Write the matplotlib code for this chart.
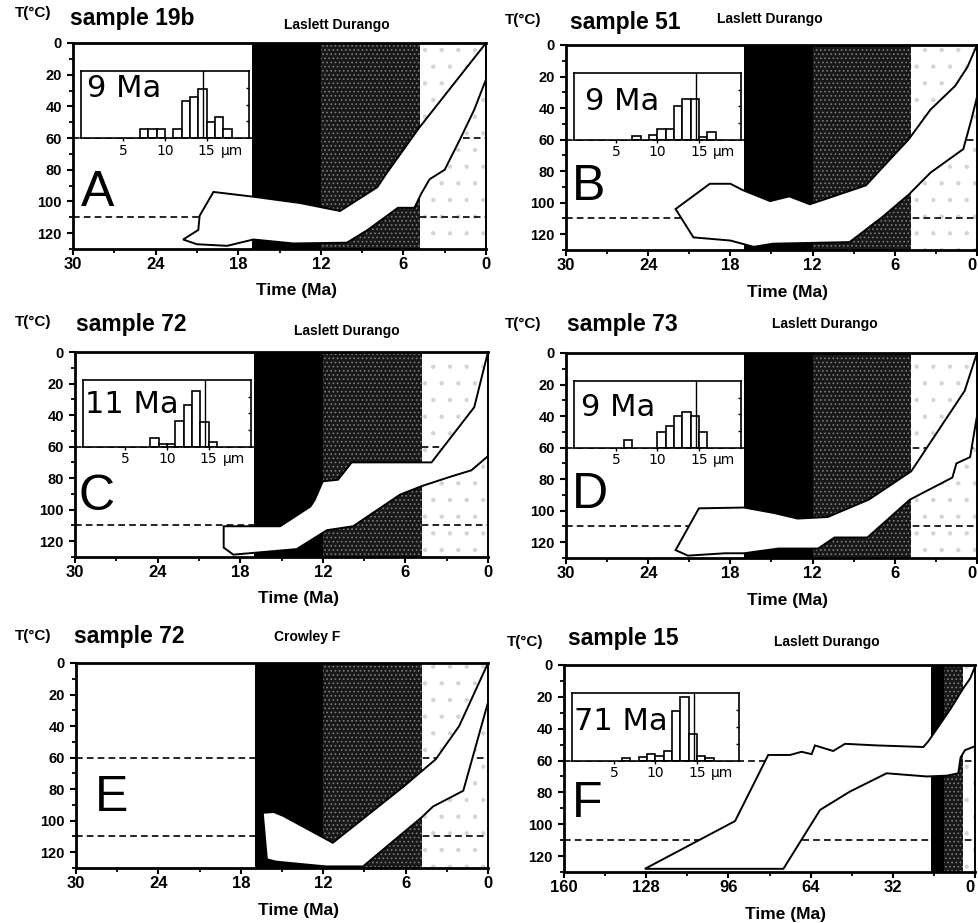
"""Thermal history envelopes (t-T paths) with fission-track length insets."""

import matplotlib

matplotlib.use("Agg")
import matplotlib.pyplot as plt
from matplotlib.patches import Polygon
from matplotlib.ticker import MultipleLocator
from matplotlib.transforms import blended_transform_factory, offset_copy

plt.rcParams["font.family"] = ["Liberation Sans", "DejaVu Sans"]
plt.rcParams["hatch.linewidth"] = 0.7

# --- envelope outlines: time (Ma), temperature (degC) ---
env_A_time = [0, 4.9, 7.2, 7.9, 10.6, 13.5, 16.9, 19.8, 20.8, 20.9, 22.0, 21.0, 18.8, 16.9,
              14.0, 10.1, 8.6, 6.4, 5.2, 4.7, 4.1, 3.0, 1.9, 0.85, 0]
env_A_temp = [0, 54, 82, 91, 106, 101, 97, 94, 109, 118, 124, 127, 128, 124,
              126.5, 126, 118, 104, 104, 95, 86, 80, 61, 42, 23]

env_B_time = [0, 0.7, 1.6, 3.4, 5.0, 6.4, 8.1, 9.8, 12.2, 13.7, 15.1, 17.1, 18.0, 19.5,
              22.0, 20.7, 18.0, 16.3, 14.9, 9.3, 6.9, 5.0, 3.4, 1.0, 0.4, 0]
env_B_temp = [0, 14, 26, 41, 60, 73, 89, 94, 101, 96, 99, 92, 88, 88,
              104, 122, 124, 128, 126, 125, 109, 95, 81, 66, 47, 33]

env_C_time = [0, 1.0, 4.1, 9.9, 10.9, 12.0, 12.6, 12.9, 15.1, 19.2, 19.2, 18.5, 13.9,
              11.7, 9.8, 6.4, 4.8, 2.7, 1.2, 0]
env_C_temp = [0, 35, 70, 70, 81, 82, 94, 98, 110.5, 110.5, 124, 128.5, 125,
              113, 110.5, 90.5, 85, 79, 75, 66]

env_D_time = [0, 0.9, 4.8, 7.9, 10.9, 13.1, 14.8, 17.0, 20.3, 22.0, 21.1, 18.4, 17.0,
              14.5, 11.6, 10.4, 8.0, 4.9, 3.8, 1.8, 1.5, 0.5, 0.1, 0]
env_D_temp = [0, 24, 75, 93, 104, 105, 101.5, 98, 98.5, 125, 128.5, 127, 127,
              124, 124, 117, 117, 93, 88, 79, 70, 66, 45, 40]

env_E_time = [0.1, 2.1, 3.8, 6.1, 11.3, 14.9, 15.6, 16.4, 16.1, 15.4, 11.8, 9.1, 4.85,
              4.0, 1.8, 0, 0]
env_E_temp = [2, 40, 61, 78, 114, 97, 94.5, 95, 124.5, 126, 129, 129, 98,
              91, 81, 25, 0]

env_F_time = [128.5, 93.4, 80.5, 72.0, 67.5, 63.6, 62.3, 55.2, 50.6, 38.3, 20.1, 18.2,
              9.7, 4.5, 1.9, 0, 0, 3.9, 5.6, 6.5, 11.0, 18.8, 34.4, 48.7, 60.3, 74.6]
env_F_temp = [128, 98, 56.5, 56.5, 54.5, 56, 50.5, 54, 49.5, 50.5, 51.5, 48,
              28, 14.5, 8.5, 1, 51, 53.5, 58, 68, 69.5, 70, 68, 79.5, 91, 128]

# --- inset track-length histograms: bin left edge (um), relative frequency ---
hist_A_len = [7, 8, 9, 11, 12, 13, 14, 15, 16, 17]
hist_A_freq = [0.13, 0.13, 0.13, 0.13, 0.55, 0.62, 0.74, 0.24, 0.32, 0.13]
hist_B_len = [7, 9, 10, 11, 12, 13, 14, 15, 16]
hist_B_freq = [0.06, 0.07, 0.16, 0.16, 0.51, 0.61, 0.61, 0.04, 0.12]
hist_C_len = [8, 9, 10, 11, 12, 13, 14, 15]
hist_C_freq = [0.13, 0.04, 0.04, 0.38, 0.63, 0.83, 0.37, 0.07]
hist_D_len = [6, 10, 11, 12, 13, 14, 15]
hist_D_freq = [0.12, 0.24, 0.32, 0.47, 0.54, 0.47, 0.24]
hist_F_len = [6, 8, 9, 10, 11, 12, 13, 14, 15, 16]
hist_F_freq = [0.04, 0.05, 0.10, 0.07, 0.15, 0.74, 0.95, 0.40, 0.07, 0.04]

durango_length = 14.6
pta_limits = [60, 110]
band_black = (17, 12)
band_stipple = (12, 4.8)
band_light = (4.8, 0)

W, H = 979, 923

# letter, sample, model, xmax, envelope, histogram, age label,
# axes box in pixels (left, top, right, bottom), text anchors in pixels
panels = [
    dict(letter="A", sample="sample 19b", model="Laslett Durango", xmax=30,
         env=(env_A_time, env_A_temp), hist=(hist_A_len, hist_A_freq), age="9 Ma",
         box=(73, 43, 486, 249), tc=(15, 13), title=(70, 18), mod=(337, 25),
         age_pos=(0.037, 0.61), let_pos=(0.02, 0.207)),
    dict(letter="B", sample="sample 51", model="Laslett Durango", xmax=30,
         env=(env_B_time, env_B_temp), hist=(hist_B_len, hist_B_freq), age="9 Ma",
         box=(566, 45, 977, 250), tc=(505, 20), title=(570, 22), mod=(770, 19),
         age_pos=(0.066, 0.44), let_pos=(0.014, 0.244)),
    dict(letter="C", sample="sample 72", model="Laslett Durango", xmax=30,
         env=(env_C_time, env_C_temp), hist=(hist_C_len, hist_C_freq), age="11 Ma",
         box=(75, 352, 488, 557), tc=(15, 322), title=(76, 324), mod=(347, 331),
         age_pos=(0.012, 0.51), let_pos=(0.008, 0.23)),
    dict(letter="D", sample="sample 73", model="Laslett Durango", xmax=30,
         env=(env_D_time, env_D_temp), hist=(hist_D_len, hist_D_freq), age="9 Ma",
         box=(566, 353, 977, 558), tc=(505, 324), title=(567, 325), mod=(825, 324),
         age_pos=(0.04, 0.48), let_pos=(0.014, 0.243)),
    dict(letter="E", sample="sample 72", model="Crowley F", xmax=30,
         env=(env_E_time, env_E_temp), hist=None, age=None,
         box=(76, 663, 488, 868), tc=(15, 636), title=(74, 637), mod=(307, 637),
         age_pos=None, let_pos=(0.046, 0.28)),
    dict(letter="F", sample="sample 15", model="Laslett Durango", xmax=160,
         env=(env_F_time, env_F_temp), hist=(hist_F_len, hist_F_freq), age="71 Ma",
         box=(564, 665, 975, 872), tc=(507, 642), title=(568, 639), mod=(827, 642),
         age_pos=(0.012, 0.46), let_pos=(0.019, 0.266)),
]


def fxy(x, y):
    return x / W, 1 - y / H


fig = plt.figure(figsize=(W / 100, H / 100), dpi=100)

for p in panels:
    left, top, right, bottom = p["box"]
    ax = fig.add_axes([left / W, 1 - bottom / H, (right - left) / W, (bottom - top) / H])
    ax.set_xlim(p["xmax"], 0)
    ax.set_ylim(130, 0)

    ax.axvspan(*band_light, facecolor="white", edgecolor="#d4d4d4", hatch=".", lw=0, zorder=0.3)
    for temp in pta_limits:
        ax.axhline(temp, color="black", lw=1.2, ls=(0, (4, 2.5)), zorder=0.5)
    ax.axvspan(*band_black, facecolor="black", lw=0, zorder=1)
    ax.axvspan(*band_stipple, facecolor="#181818", edgecolor="#7a7a7a", hatch="....", lw=0, zorder=1)

    t, temp = p["env"]
    ax.add_patch(Polygon(list(zip(t, temp)), closed=True, facecolor="white",
                         edgecolor="black", lw=1.4, zorder=2))

    step = p["xmax"] // 5
    xticks = list(range(p["xmax"], -1, -step))
    ax.set_xticks(xticks, labels=[str(v) for v in xticks])
    ax.xaxis.set_minor_locator(MultipleLocator(step / 2))
    ax.set_yticks(range(0, 121, 20), labels=[str(v) for v in range(0, 121, 20)])
    ax.yaxis.set_minor_locator(MultipleLocator(10))
    ax.set_xlim(p["xmax"], 0)
    ax.set_ylim(130, 0)
    ax.tick_params(which="major", direction="out", length=4, width=1.5)
    ax.tick_params(which="minor", direction="out", length=3, width=1.3)
    ax.tick_params(axis="x", labelsize=12, pad=2)
    ax.tick_params(axis="y", labelsize=10.5, pad=4)
    for lab in ax.get_xticklabels() + ax.get_yticklabels():
        lab.set_fontweight("bold")
    # the right-hand column sits flush with the page edge: keep the "0" inside
    if right > W - 10:
        ax.xaxis.get_major_ticks()[-1].label1.set_horizontalalignment("right")
    for side in ("left", "bottom", "top"):
        ax.spines[side].set_linewidth(2)
    ax.spines["right"].set_linewidth(1.4)
    for sp in ax.spines.values():
        sp.set_zorder(4)

    ax.text(*p["let_pos"], p["letter"], transform=ax.transAxes, fontsize=36,
            va="baseline", ha="left", zorder=6)

    fig.text(*fxy(*p["tc"]), "T(°C)", fontsize=11, fontweight="bold", va="center", ha="left")
    fig.text(*fxy(*p["title"]), p["sample"], fontsize=16.5, fontweight="bold",
             va="center", ha="left")
    fig.text(*fxy(*p["mod"]), p["model"], fontsize=10, fontweight="bold",
             va="center", ha="center")
    fig.text(*fxy(left + 0.54 * (right - left), bottom + 42), "Time (Ma)", fontsize=12.5,
             fontweight="bold", va="center", ha="center")

    if p["hist"] is None:
        continue

    ins = ax.inset_axes([0.02, 0.538, 0.405, 0.325])
    lengths, freqs = p["hist"]
    ins.bar(lengths, freqs, width=1, align="edge", facecolor="white",
            edgecolor="black", lw=1.2, zorder=2)
    ins.axvline(durango_length, color="black", lw=1.0, zorder=3)
    ins.set_xlim(0, 20)
    ins.set_ylim(0, 1)
    ins.set_xticks([5, 10, 15])
    ins.set_xticklabels(["5", "10", "15"], family="DejaVu Sans", fontsize=10)
    ins.tick_params(axis="x", direction="out", length=2.5, width=1, pad=1.5)
    ins.yaxis.tick_right()
    ins.set_yticks([0.25, 0.5, 0.75])
    ins.set_yticklabels([])
    ins.tick_params(axis="y", direction="in", length=2.5, width=1)
    for sp in ins.spines.values():
        sp.set_linewidth(1.2)
    unit_tr = offset_copy(blended_transform_factory(ins.transData, ins.transAxes),
                          fig=fig, y=-4, units="points")
    ins.text(16.7, 0, "µm", transform=unit_tr, family="DejaVu Sans", fontsize=10,
             va="top", ha="left")
    ins.text(*p["age_pos"], p["age"], transform=ins.transAxes, family="DejaVu Sans",
             fontsize=22, va="baseline", ha="left", zorder=5)

fig.savefig("out.png", dpi=100)
